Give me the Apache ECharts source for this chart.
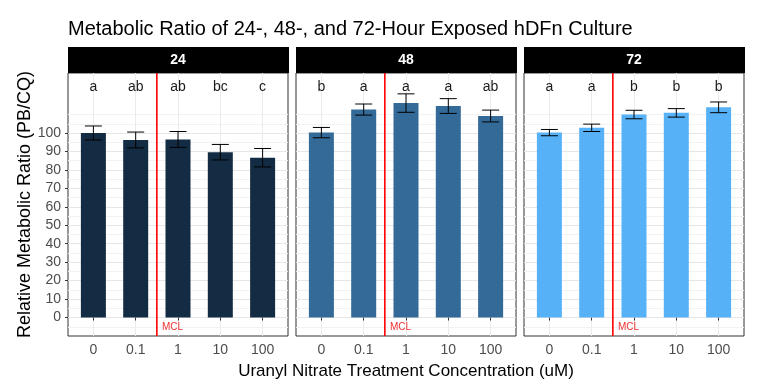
<!DOCTYPE html>
<html>
<head>
<meta charset="utf-8">
<script src="https://cdn.jsdelivr.net/npm/echarts@6/dist/echarts.min.js"></script>
<style>
html, body { margin: 0; padding: 0; background: #fff; }
#main { width: 762px; height: 387px; }
</style>
</head>
<body>
<div id="main"></div>
<script>
// concentrations (uM) and exposure hours (facets)
var concLabels = ['0', '0.1', '1', '10', '100'],
    hours = ['24', '48', '72'];

// mean relative metabolic ratio per concentration
var ratio24 = [100, 96.2, 96.5, 89.6, 86.6],
    ratio48 = [100.2, 112.7, 116.2, 114.6, 109.2],
    ratio72 = [100.2, 102.8, 110.0, 110.9, 113.9];

// error bar half-widths
var err24 = [3.8, 4.3, 4.3, 4.2, 5.0],
    err48 = [2.8, 3.0, 5.0, 4.0, 3.2],
    err72 = [1.7, 2.0, 2.3, 2.3, 2.9];

// significance letters
var letters24 = ['a', 'ab', 'ab', 'bc', 'c'],
    letters48 = ['b', 'a', 'a', 'a', 'ab'],
    letters72 = ['a', 'a', 'b', 'b', 'b'];

var yTicks = [0, 10, 20, 30, 40, 50, 60, 70, 80, 90, 100],
    xTicks = [1, 2, 3, 4, 5],
    letterY = 125,
    mclX = 2.5,
    mclTextX = 2.62,
    mclTextY = -5,
    yMin = -10,
    yMax = 132.5;

var ratios = [ratio24, ratio48, ratio72],
    errs = [err24, err48, err72],
    letters = [letters24, letters48, letters72],
    fills = ['#132B43', '#336A98', '#56B1F7'],
    lefts = [68, 296, 524],
    panelTop = 73,
    panelW = 220,
    panelH = 263,
    font = 'Liberation Sans, Arial, sans-serif';

// ggplot-like grid: major at labelled breaks, minor half-way (and one step beyond)
var gridColors = [];
for (var v = yMin; v < yMax; v += 5) {
    if (yTicks.indexOf(v) >= 0) gridColors.push('#e6e6e6');
    else if (v > yMin && v <= 110) gridColors.push('#f2f2f2');
    else gridColors.push('rgba(0,0,0,0)');
}
gridColors.push('rgba(0,0,0,0)');

var grids = [], xAxes = [], yAxes = [], series = [], graphics = [];

hours.forEach(function (h, i) {
    grids.push({
        left: lefts[i], top: panelTop, width: panelW, height: panelH,
        show: true, borderColor: '#333', borderWidth: 1, backgroundColor: '#fff'
    });
    xAxes.push({
        type: 'value', gridIndex: i, min: 0.4, max: 5.6,
        axisLine: { show: false },
        axisTick: { show: true, customValues: xTicks, length: 3, lineStyle: { color: '#333' } },
        axisLabel: {
            customValues: xTicks, margin: 7, color: '#4d4d4d', fontSize: 14, fontFamily: font,
            formatter: function (val) { return concLabels[Math.round(val) - 1]; }
        },
        splitLine: { show: true, lineStyle: { color: '#ebebeb', width: 1 } },
        name: i === 1 ? 'Uranyl Nitrate Treatment Concentration (uM)' : '',
        nameLocation: 'middle', nameGap: 27,
        nameTextStyle: { color: '#000', fontSize: 17, fontFamily: font }
    });
    yAxes.push({
        type: 'value', gridIndex: i, min: yMin, max: yMax, interval: 5,
        axisLine: { show: false }, axisTick: { show: false }, axisLabel: { show: false },
        splitLine: { show: true, lineStyle: { color: gridColors, width: 1 } }
    });

    var bars = ratios[i].map(function (r, k) { return [xTicks[k], r]; });
    series.push({
        type: 'bar', xAxisIndex: i, yAxisIndex: i, data: bars, barWidth: 25,
        itemStyle: { color: fills[i] }, silent: true, z: 2
    });
    series.push({
        type: 'custom', xAxisIndex: i, yAxisIndex: i, z: 3, silent: true,
        data: ratios[i].map(function (r, k) { return [xTicks[k], r, errs[i][k]]; }),
        renderItem: function (params, api) {
            var x = api.value(0), m = api.value(1), e = api.value(2);
            var top = api.coord([x, m + e]), bot = api.coord([x, m - e]);
            var st = { stroke: '#000', lineWidth: 1 };
            return {
                type: 'group', children: [
                    { type: 'line', shape: { x1: top[0], y1: top[1], x2: bot[0], y2: bot[1] }, style: st },
                    { type: 'line', shape: { x1: top[0] - 8.5, y1: top[1], x2: top[0] + 8.5, y2: top[1] }, style: st },
                    { type: 'line', shape: { x1: bot[0] - 8.5, y1: bot[1], x2: bot[0] + 8.5, y2: bot[1] }, style: st }
                ]
            };
        }
    });
    series.push({
        type: 'custom', xAxisIndex: i, yAxisIndex: i, z: 3, silent: true,
        data: xTicks.map(function (x) { return [x, letterY]; }),
        renderItem: function (params, api) {
            var p = api.coord([api.value(0), api.value(1)]);
            return {
                type: 'text', x: p[0], y: p[1],
                style: { text: letters[i][params.dataIndex], fill: '#1a1a1a', fontSize: 14,
                         fontFamily: font, align: 'center', verticalAlign: 'middle' }
            };
        }
    });
    series.push({
        type: 'custom', xAxisIndex: i, yAxisIndex: i, z: 4, silent: true,
        data: [[mclX, mclTextX, mclTextY]],
        renderItem: function (params, api) {
            var a = api.coord([api.value(0), yMin]), b = api.coord([api.value(0), yMax]);
            var t = api.coord([api.value(1), api.value(2)]);
            return {
                type: 'group', children: [
                    { type: 'line', shape: { x1: a[0], y1: a[1], x2: b[0], y2: b[1] },
                      style: { stroke: '#ff0000', lineWidth: 1.6 } },
                    { type: 'text', x: t[0], y: t[1],
                      style: { text: 'MCL', fill: '#f03030', fontSize: 10, fontFamily: font,
                               align: 'left', verticalAlign: 'middle' } }
                ]
            };
        }
    });

    graphics.push({
        type: 'rect', left: lefts[i], top: panelTop - 26,
        shape: { width: panelW + 1, height: 26 }, style: { fill: '#000' }
    });
    graphics.push({
        type: 'text', x: lefts[i] + panelW / 2, y: panelTop - 13,
        style: { text: h, fill: '#fff', font: 'bold 14px ' + font, align: 'center', verticalAlign: 'middle' }
    });
});

// y labels on the first panel only
yAxes.push({
    type: 'value', gridIndex: 0, min: yMin, max: yMax, position: 'left',
    axisLine: { show: false },
    axisTick: { show: true, customValues: yTicks, length: 3, lineStyle: { color: '#333' } },
    axisLabel: { customValues: yTicks, margin: 7, color: '#4d4d4d', fontSize: 14, fontFamily: font },
    splitLine: { show: false },
    name: 'Relative Metabolic Ratio (PB/CQ)', nameLocation: 'middle', nameGap: 33, nameRotate: 90,
    nameTextStyle: { color: '#000', fontSize: 18, fontFamily: font }
});

var myChart = echarts.init(document.getElementById('main'), null, { renderer: 'canvas' });
myChart.setOption({
    animation: false,
    backgroundColor: '#fff',
    title: {
        text: 'Metabolic Ratio of 24-, 48-, and 72-Hour Exposed hDFn Culture',
        left: 68, top: 19, padding: 0,
        textStyle: { color: '#000', fontSize: 20, fontWeight: 'normal', fontFamily: font }
    },
    grid: grids,
    xAxis: xAxes,
    yAxis: yAxes,
    series: series,
    graphic: graphics
});
</script>
</body>
</html>
